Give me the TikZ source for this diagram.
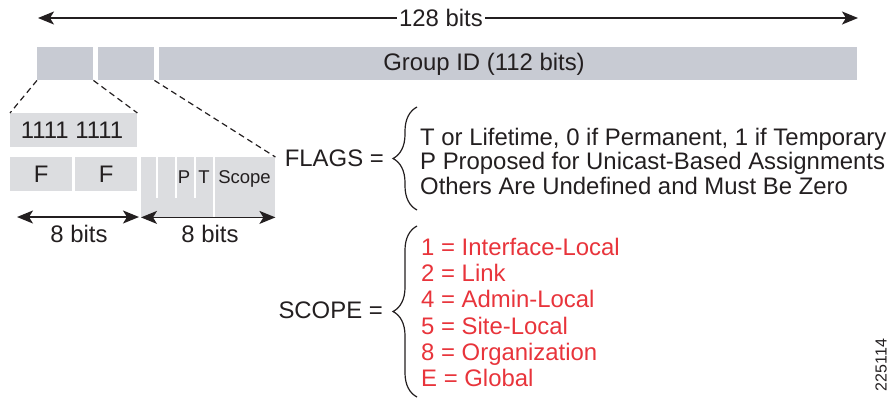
\documentclass[tikz,border=0pt]{standalone}
\usepackage{fontspec}
\setmainfont{Liberation Sans}
\usepackage{tikz}
\usetikzlibrary{positioning,decorations.pathreplacing,arrows.meta}
\definecolor{topgray}{HTML}{C8CBD3}
\definecolor{lowgray}{HTML}{DCDDE0}
\definecolor{ink}{HTML}{231F20}
\definecolor{scopered}{HTML}{E8343B}
\tikzstyle{field} = [rectangle, draw=none, fill=topgray, inner sep=0pt, anchor=north west, minimum height=33pt]
\tikzstyle{subfield} = [rectangle, draw=none, fill=lowgray, inner sep=0pt, anchor=north west, minimum height=34pt]

\begin{document}
\begin{tikzpicture}[x=1pt, y=-1pt, text=ink,
  font=\fontsize{23.9}{24.5}\selectfont,
  bits/.style={{Stealth[length=16pt,width=13pt,inset=4pt]}-{Stealth[length=16pt,width=13pt,inset=4pt]}, line width=1.5pt, draw=ink},
  zoomline/.style={draw=ink, line width=1.2pt, dash pattern=on 6pt off 4pt},
  curly/.style={draw=ink, line width=1.2pt, decorate, decoration={brace, amplitude=24pt}},
  sep/.style={draw=white, line width=1.6pt}]
  \useasboundingbox (0,0) rectangle (890,400);
  % draw 128 bit address
  \coordinate (l128) at (38,18);
  \coordinate (r128) at (858,18);
  \draw[bits] (l128) -- (r128);
  \node[fill=white, inner xsep=2pt, inner ysep=1pt] (n128) at (441,18) {128 bits};
  \node[field, minimum width=56pt] (grp1) at (37,47) {};
  \node[field, minimum width=56pt] (grp2) at (98,47) {};
  \node[field, minimum width=698pt] (grpid) at (159,47) {};
  \node (grplabel) at (484,64) {Group ID (112 bits)};
  % draw expanded first and second bytes
  \node[subfield, minimum width=127pt] (ones) at (10,113) {};
  \node (oneslabel) at (72,130) {1111 1111};
  \foreach \x [count=\step from 1] in {10,75}
    \node[subfield, minimum width=62pt] (f\step) at (\x,157) {F};
  \node[subfield, minimum width=134pt, minimum height=60pt] (flagbox) at (141,157) {};
  \foreach \x in {157,176,195}
    \draw[sep] (\x,157) -- (\x,198);
  \draw[sep] (214,157) -- (214,217);
  \foreach \t/\x [count=\step from 1] in {P/184,T/204,Scope/244.5}
    \node[anchor=base, inner sep=0pt, font=\fontsize{18.5}{18.5}\selectfont] (fl\step) at (\x,183) {\t};
  % draw zoom lines
  \draw[zoomline] (grp1.south west) -- (ones.north west);
  \draw[zoomline] (grp1.south east) -- (ones.north east);
  \draw[zoomline] (grp2.south east) -- (flagbox.north east);
  % draw 8 bit arrows
  \coordinate (la) at (17,217);
  \coordinate (ra) at (139,217);
  \draw[bits] (la) -- (ra);
  \draw[bits] (flagbox.south west) -- (flagbox.south east);
  \node[anchor=base, inner sep=0pt] (b8a) at (79,242) {8 bits};
  \node[anchor=base, inner sep=0pt] (b8b) at (210,242) {8 bits};
  % draw flags legend
  \node[anchor=base east, inner sep=0pt] (flags) at (384,166.5) {FLAGS =};
  \coordinate (fbot) at (417,210);
  \coordinate (ftop) at (417,107);
  \draw[curly] (fbot) -- (ftop);
  \foreach \t [count=\step from 0] in {{T or Lifetime, 0 if Permanent, 1 if Temporary},
      P Proposed for Unicast-Based Assignments, Others Are Undefined and Must Be Zero}
    \node[anchor=base west, inner sep=0pt] (fl\step) at (420,145+24.5*\step) {\t};
  % draw scope legend
  \node[anchor=base east, inner sep=0pt] (scope) at (383,318.5) {SCOPE =};
  \coordinate (sbot) at (417,397);
  \coordinate (stop) at (417,226);
  \draw[curly] (sbot) -- (stop);
  \foreach \t [count=\step from 0] in {1 = Interface-Local, 2 = Link, 4 = Admin-Local,
      5 = Site-Local, 8 = Organization, E = Global}
    \node[anchor=base west, inner sep=0pt, text=scopered] (sc\step) at (421,255.5+26.2*\step) {\t};
  % figure number
  \node[rotate=90, font=\fontsize{16}{16}\selectfont] (fig) at (881,365) {225114};
\end{tikzpicture}
\end{document}
